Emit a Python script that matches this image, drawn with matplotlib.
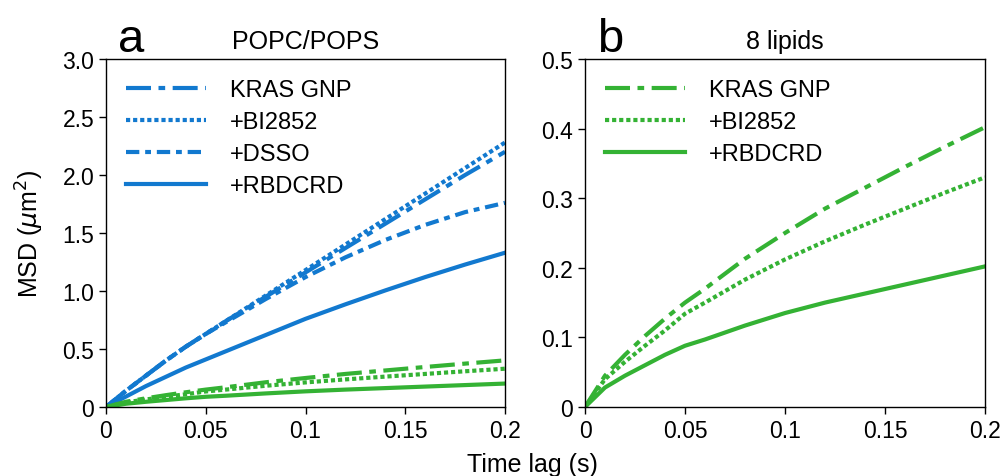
import matplotlib
matplotlib.use("Agg")
import matplotlib.pyplot as plt

plt.rcParams['font.family'] = ['Liberation Sans', 'DejaVu Sans']
plt.rcParams['mathtext.fontset'] = 'dejavusans'

time = [0, 0.01, 0.02, 0.03, 0.04, 0.05, 0.06, 0.08, 0.10, 0.12, 0.14, 0.16, 0.18, 0.20]

# POPC/POPS (blue)
blue_kras = [0, 0.14, 0.27, 0.40, 0.52, 0.63, 0.74, 0.95, 1.16, 1.37, 1.58, 1.79, 2.00, 2.20]
blue_bi = [0, 0.14, 0.27, 0.40, 0.52, 0.63, 0.74, 0.96, 1.18, 1.40, 1.62, 1.84, 2.06, 2.28]
blue_dsso = [0, 0.14, 0.27, 0.40, 0.52, 0.63, 0.73, 0.93, 1.12, 1.29, 1.44, 1.57, 1.68, 1.76]
blue_rbd = [0, 0.09, 0.18, 0.26, 0.34, 0.41, 0.48, 0.62, 0.76, 0.885, 1.005, 1.12, 1.228, 1.33]

# 8 lipids (green)
green_kras = [0, 0.045, 0.075, 0.102, 0.127, 0.150, 0.170, 0.213, 0.250, 0.285, 0.315, 0.345, 0.374, 0.402]
green_bi = [0, 0.040, 0.065, 0.088, 0.110, 0.134, 0.150, 0.183, 0.212, 0.238, 0.262, 0.285, 0.308, 0.330]
green_rbd = [0, 0.028, 0.045, 0.060, 0.075, 0.088, 0.097, 0.117, 0.135, 0.150, 0.163, 0.176, 0.189, 0.202]

xticks = [0, 0.05, 0.1, 0.15, 0.2]
xticklabels = ['0', '0.05', '0.1', '0.15', '0.2']
yticks_a = [0, 0.5, 1.0, 1.5, 2.0, 2.5, 3.0]
yticklabels_a = ['0', '0.5', '1.0', '1.5', '2.0', '2.5', '3.0']
yticks_b = [0, 0.1, 0.2, 0.3, 0.4, 0.5]
yticklabels_b = ['0', '0.1', '0.2', '0.3', '0.4', '0.5']

BLUE = '#1279CF'
GREEN = '#34B234'
LW = 3
ls_kras = (0, (6.0, 1.8, 1.6, 1.8))
ls_bi = (0, (1.0, 0.7))
ls_dsso = (0, (3.2, 1.4, 1.4, 1.4))
ls_rbd = '-'

fig = plt.figure(figsize=(10.01, 4.77), dpi=100)
ax1 = fig.add_axes([106/1001, 1-408/477, 399/1001, 348/477])
ax2 = fig.add_axes([585/1001, 1-408/477, 400/1001, 348/477])

ax1.plot(time, blue_kras, color=BLUE, lw=LW, ls=ls_kras, label='KRAS GNP')
ax1.plot(time, blue_bi, color=BLUE, lw=LW, ls=ls_bi, label='+BI2852')
ax1.plot(time, blue_dsso, color=BLUE, lw=LW, ls=ls_dsso, label='+DSSO')
ax1.plot(time, blue_rbd, color=BLUE, lw=LW, ls=ls_rbd, label='+RBDCRD')
ax1.plot(time, green_kras, color=GREEN, lw=LW, ls=ls_kras)
ax1.plot(time, green_bi, color=GREEN, lw=LW, ls=ls_bi)
ax1.plot(time, green_rbd, color=GREEN, lw=LW, ls=ls_rbd)

ax2.plot(time, green_kras, color=GREEN, lw=LW, ls=ls_kras, label='KRAS GNP')
ax2.plot(time, green_bi, color=GREEN, lw=LW, ls=ls_bi, label='+BI2852')
ax2.plot(time, green_rbd, color=GREEN, lw=LW, ls=ls_rbd, label='+RBDCRD')

for ax, yt, ytl, ymax in [(ax1, yticks_a, yticklabels_a, 3.0), (ax2, yticks_b, yticklabels_b, 0.5)]:
    ax.set_xlim(0, 0.2)
    ax.set_ylim(0, ymax)
    ax.set_xticks(xticks)
    ax.set_xticklabels(xticklabels)
    ax.set_yticks(yt)
    ax.set_yticklabels(ytl)
    ax.tick_params(labelsize=16.5, length=5, width=1, direction='out')
    for s in ax.spines.values():
        s.set_linewidth(1)
    ax.legend(loc='upper left', frameon=False, fontsize=17, handlelength=3.4,
              handletextpad=1.0, labelspacing=0.42, borderaxespad=0.45,
              bbox_to_anchor=(0.0, 1.0))

ax1.set_title('POPC/POPS', fontsize=18, pad=8)
ax2.set_title('8 lipids', fontsize=18, pad=8)
fig.text(118/1001, 1-40/477, 'a', fontsize=34, va='center', ha='left')
fig.text(597/1001, 1-40/477, 'b', fontsize=34, va='center', ha='left')

ax1.set_ylabel(r'MSD ($\mu$m$^2$)', fontsize=18, labelpad=12)
fig.text(532/1001, 1-465/477, 'Time lag (s)', fontsize=18, ha='center', va='center')

fig.savefig('out.png', dpi=100)
